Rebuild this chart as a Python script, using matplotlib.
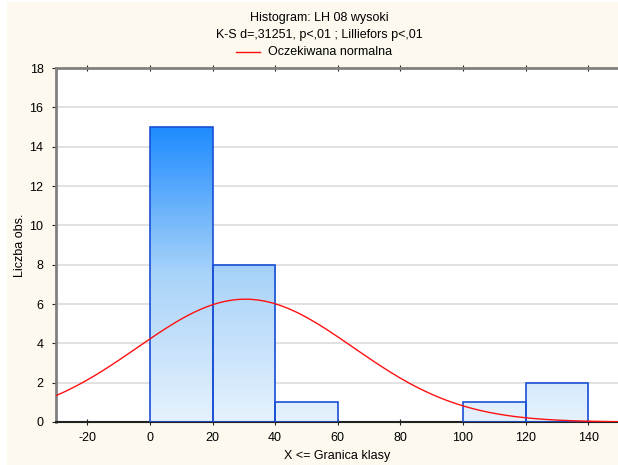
import numpy as np
import matplotlib.pyplot as plt
from matplotlib.colors import LinearSegmentedColormap
from matplotlib.patches import Rectangle

plt.rcParams['font.family'] = ['Liberation Sans', 'DejaVu Sans']
plt.rcParams['axes.unicode_minus'] = False

# dane histogramu
bin_edges = [0, 20, 40, 60, 80, 100, 120, 140]
counts = [15, 8, 1, 0, 0, 1, 2]
x_ticks = [-20, 0, 20, 40, 60, 80, 100, 120, 140]
y_ticks = [0, 2, 4, 6, 8, 10, 12, 14, 16, 18]

# parametry oczekiwanego rozkladu normalnego
n_obs = 27
mean = 30.5
sd = 34.5
bin_width = 20

cream = '#fdf9ee'
fig = plt.figure(figsize=(6.18, 4.65), dpi=100, facecolor='white')
fig.patches.append(Rectangle((7 / 618, 0), 1, 1 - 2 / 465, transform=fig.transFigure,
                             facecolor=cream, edgecolor='none', zorder=-10))

ax = fig.add_axes([56 / 618, 1 - 422 / 465, 1 - 56 / 618 + 0.01, (422 - 68) / 465])
ax.set_facecolor('white')
ax.set_xlim(-30, 151.5)
ax.set_ylim(0, 18)

cmap = LinearSegmentedColormap.from_list('g', ['#e6f2fd', '#a9d3f9', '#1e8bff'])
grad = np.linspace(0, 1, 256).reshape(-1, 1)
ymax = max(counts)
for left, right, c in zip(bin_edges[:-1], bin_edges[1:], counts):
    if c == 0:
        continue
    im = ax.imshow(grad, cmap=cmap, origin='lower', aspect='auto',
                   extent=[left, right, 0, ymax], zorder=2, interpolation='bilinear')
    rect = Rectangle((left, 0), right - left, c, facecolor='none',
                     edgecolor='#1a4fd6', linewidth=1.2, zorder=3)
    ax.add_patch(rect)
    im.set_clip_path(rect)

xs = np.linspace(-30, 152, 400)
ys = n_obs * bin_width / (sd * np.sqrt(2 * np.pi)) * np.exp(-0.5 * ((xs - mean) / sd) ** 2)
ax.plot(xs, ys, color='#ff1010', linewidth=1.0, zorder=4)

ax.set_xticks(x_ticks)
ax.set_yticks(y_ticks)
ax.yaxis.grid(True, color='#dcdcdc', linewidth=1.2, zorder=0)
ax.set_axisbelow(True)
ax.tick_params(axis='both', labelsize=9, length=3, color='#222222')
ax.tick_params(axis='x', pad=5)
ax.tick_params(axis='y', pad=6)
ax.tick_params(axis='x', which='both', top=True)
ax.xaxis.set_tick_params(which='major', direction='inout', length=5)
for s in ['left', 'top']:
    ax.spines[s].set_color('#808080')
    ax.spines[s].set_linewidth(2)
ax.spines['bottom'].set_color('#222222')
ax.spines['bottom'].set_linewidth(1.5)
ax.spines['right'].set_visible(False)

fig.text(337 / 618, 1 - 456 / 465, 'X <= Granica klasy', ha='center', va='center', fontsize=9)
fig.text(20 / 618, 1 - 245 / 465, 'Liczba obs.', ha='center', va='center', fontsize=9, rotation=90)

fig.text(0.516, 1 - 18 / 465, 'Histogram: LH 08 wysoki', ha='center', va='center', fontsize=9)
fig.text(0.516, 1 - 35 / 465, 'K-S d=,31251, p<,01 ; Lilliefors p<,01', ha='center', va='center', fontsize=9)
fig.lines.append(plt.Line2D([236 / 618, 260 / 618], [1 - 52 / 465] * 2, color='#ff1010',
                            linewidth=1.0, transform=fig.transFigure))
fig.text(268 / 618, 1 - 52 / 465, 'Oczekiwana normalna', ha='left', va='center', fontsize=9)

fig.savefig('out.png', dpi=100, facecolor=fig.get_facecolor())
